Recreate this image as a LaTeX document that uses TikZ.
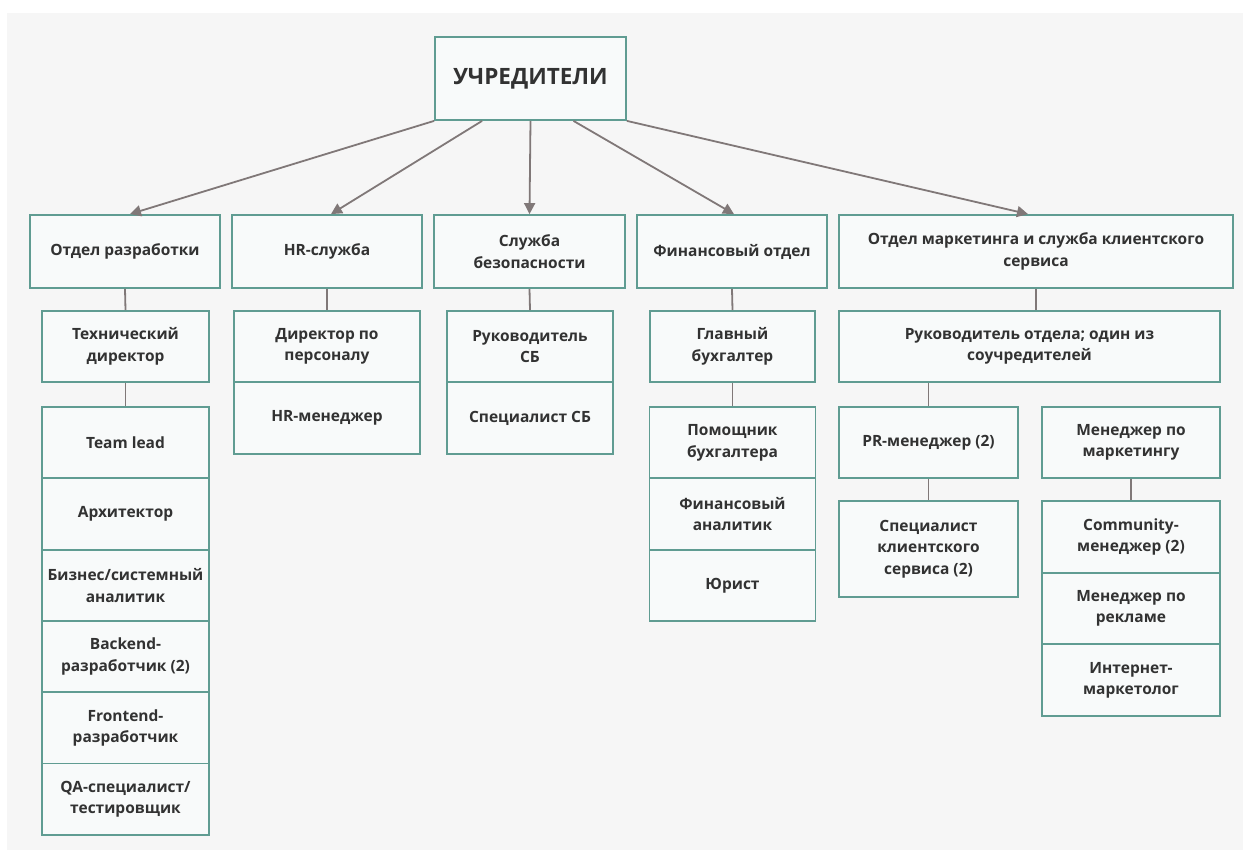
\documentclass[tikz,border=0pt]{standalone}
\usepackage{fontspec}
\setmainfont{Open Sans}
\usepackage{tikz}
\usetikzlibrary{arrows.meta}

\definecolor{bggray}{RGB}{246,246,246}
\definecolor{boxline}{RGB}{96,156,146}
\definecolor{boxfill}{RGB}{248,250,250}
\definecolor{linkgray}{RGB}{128,120,120}
\definecolor{txt}{RGB}{50,50,50}

\begin{document}
\begin{tikzpicture}[x=1pt, y=-1pt,
    every node/.style={font=\fontsize{15.5}{21.5}\selectfont\bfseries, text=txt},
    unit/.style={draw=boxline, line width=1.8pt, fill=boxfill, inner sep=0pt, align=center, minimum width=#1},
    unit/.default=190pt,
    link/.style={draw=linkgray, line width=1.8pt},
    arrow/.style={link, -{Triangle[length=11pt, width=11pt]}}]
    % Background
    \fill[white] (0,0) rectangle (1243,850);
    \fill[bggray] (7,13) rectangle (1243,850);

    % Founders
    \node[unit=191pt, minimum height=83pt, font=\fontsize{22.5}{26}\selectfont\bfseries] (top) at (530.5,78.5) {УЧРЕДИТЕЛИ};

    % Departments
    \node[unit=190pt, minimum height=73pt] (dev) at (125,251.5) {Отдел разработки};
    \node[unit=190pt, minimum height=73pt] (hr) at (327,251.5) {HR-служба};
    \node[unit=191pt, minimum height=73pt] (sb) at (529.5,251.5) {Служба\\безопасности};
    \node[unit=190pt, minimum height=73pt] (fin) at (732,251.5) {Финансовый отдел};
    \node[unit=394pt, minimum height=73pt] (mkt) at (1036,251.5) {Отдел маркетинга и служба клиентского\\сервиса};

    % Heads
    \node[unit=167pt, minimum height=71pt] (cto) at (125.5,346.5) {Технический\\директор};
    \node[unit=186pt, minimum height=71pt] (hrdir) at (327,346.5) {Директор по\\персоналу};
    \node[unit=186pt, minimum height=72pt] (hrmgr) at (327,418) {HR-менеджер};
    \node[unit=166pt, minimum height=71pt] (sbhead) at (530,346.5) {Руководитель\\СБ};
    \node[unit=166pt, minimum height=72pt] (sbspec) at (530,418) {Специалист СБ};
    \node[unit=165pt, minimum height=71pt] (acc) at (732.5,346.5) {Главный\\бухгалтер};
    \node[unit=381pt, minimum height=71pt] (mkthead) at (1029.5,346.5) {Руководитель отдела; один из\\соучредителей};

    % Development staff
    \node[unit=167pt, minimum height=71.3pt] (lead) at (125.5,442.7) {Team lead};
    \node[unit=167pt, minimum height=71.3pt] (arch) at (125.5,514) {Архитектор};
    \node[unit=167pt, minimum height=71.3pt] (ba) at (125.5,585.3) {Бизнес/системный\\аналитик};
    \node[unit=167pt, minimum height=71.3pt] (back) at (125.5,656.6) {Backend-\\разработчик (2)};
    \node[unit=167pt, minimum height=71.3pt] (front) at (125.5,727.9) {Frontend-\\разработчик};
    \node[unit=167pt, minimum height=71.3pt] (qa) at (125.5,799.2) {QA-специалист/\\тестировщик};

    % Finance staff
    \node[unit=166pt, minimum height=71.3pt] (asst) at (732.5,442.7) {Помощник\\бухгалтера};
    \node[unit=166pt, minimum height=71.3pt] (analyst) at (732.5,514) {Финансовый\\аналитик};
    \node[unit=166pt, minimum height=71.3pt] (lawyer) at (732.5,585.3) {Юрист};

    % Marketing staff
    \node[unit=179pt, minimum height=71pt] (pr) at (928.5,442.5) {PR-менеджер (2)};
    \node[unit=179pt, minimum height=96pt] (care) at (928.5,549) {Специалист\\клиентского\\сервиса (2)};
    \node[unit=178pt, minimum height=71pt] (mktmgr) at (1131,442.5) {Менеджер по\\маркетингу};
    \node[unit=178pt, minimum height=71.7pt] (comm) at (1131,536.8) {Community-\\менеджер (2)};
    \node[unit=178pt, minimum height=71.7pt] (ads) at (1131,608.5) {Менеджер по\\рекламе};
    \node[unit=178pt, minimum height=71.7pt] (web) at (1131,680.2) {Интернет-\\маркетолог};

    % Arrows from founders
    \draw[arrow] (top.south west) -- ([xshift=5pt]dev.north);
    \draw[arrow] ([xshift=48pt]top.south west) -- ([xshift=4pt]hr.north);
    \draw[arrow] (top.south) -- (sb.north);
    \draw[arrow] ([xshift=43pt]top.south) -- ([xshift=2pt]fin.north);
    \draw[arrow] (top.south east) -- ([xshift=-8pt]mkt.north);

    % Plain links
    \draw[link] (dev.south) -- (cto.north);
    \draw[link] (cto.south) -- (lead.north);
    \draw[link] (hr.south) -- (hrdir.north);
    \draw[link] (sb.south) -- (sbhead.north);
    \draw[link] (fin.south) -- (acc.north);
    \draw[link] (acc.south) -- (asst.north);
    \draw[link] (mkt.south) -- (mkt.south |- mkthead.north);
    \draw[link] (pr.north) -- (pr.north |- mkthead.south);
    \draw[link] (pr.south) -- (care.north);
    \draw[link] (mktmgr.south) -- (comm.north);
\end{tikzpicture}
\end{document}
